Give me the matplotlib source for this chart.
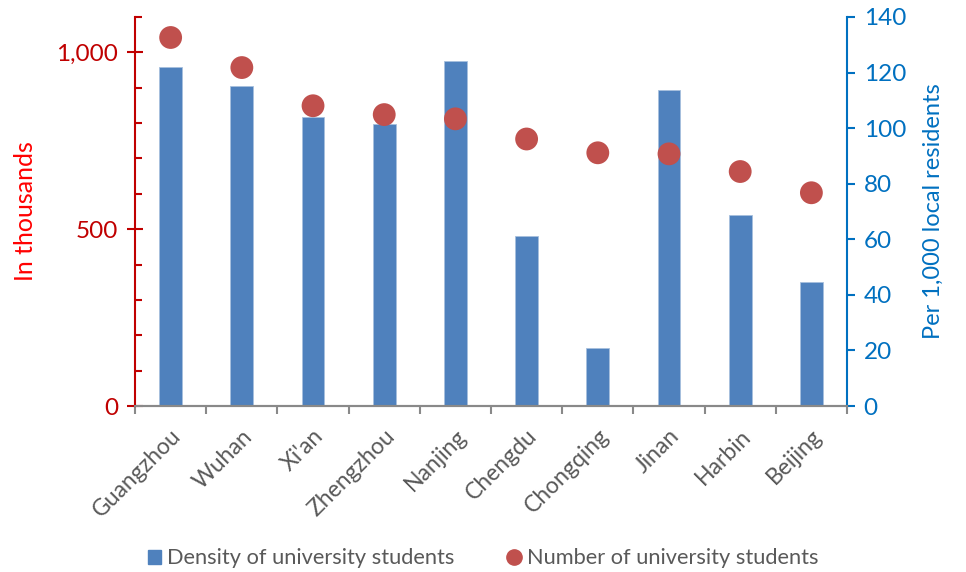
import numpy as np
import matplotlib.pyplot as plt
from matplotlib.ticker import MultipleLocator, FuncFormatter, FixedLocator
from matplotlib.lines import Line2D
from matplotlib.patches import Patch

plt.rcParams['font.family'] = ['Lato', 'DejaVu Sans']

cities = ['Guangzhou', 'Wuhan', "Xi'an", 'Zhengzhou', 'Nanjing',
          'Chengdu', 'Chongqing', 'Jinan', 'Harbin', 'Beijing']
# students per 1,000 local residents (right axis)
density = [122, 115, 104, 101.5, 124, 61.3, 21, 113.8, 68.8, 44.7]
# number of university students, thousands (left axis)
students = [1042, 957, 849, 824, 812, 755, 716, 713, 663, 603]

bar_color = '#4F81BD'
dot_color = '#C0504D'
left_color = '#C00000'
right_color = '#0070C0'
grey = '#595959'

fig = plt.figure(figsize=(9.66, 5.72), dpi=100)
ax = fig.add_axes([0.1398, 0.2902, 0.7370, 0.6801])
ax2 = ax.twinx()

x = np.arange(len(cities))
ax2.bar(x, density, width=0.32, color=bar_color, edgecolor='#A7C0DE', linewidth=0.6)
ax.scatter(x, students, s=270, color=dot_color, edgecolors='none', zorder=3)

# dots above the bars
ax.set_zorder(ax2.get_zorder() + 1)
ax.patch.set_visible(False)

ax.set_xlim(-0.5, len(cities) - 0.5)
ax.set_ylim(0, 1100)
ax2.set_ylim(0, 140)

# left axis
ax.yaxis.set_major_locator(FixedLocator([0, 500, 1000]))
ax.yaxis.set_minor_locator(MultipleLocator(100))
ax.yaxis.set_major_formatter(FuncFormatter(lambda v, p: f'{int(v):,}'))
ax.tick_params(axis='y', which='major', direction='inout', length=12, width=1.5,
               colors=left_color, labelsize=17.5, pad=6)
ax.tick_params(axis='y', which='minor', direction='in', length=5, width=1.5,
               colors=left_color)
ax.set_ylabel('In thousands', color='#FF0000', fontsize=18, labelpad=14)

# right axis
ax2.yaxis.set_major_locator(MultipleLocator(20))
ax2.tick_params(axis='y', which='major', direction='out', length=6, width=1.5,
                colors=right_color, labelsize=17.5, pad=6)
ax2.set_ylabel('Per 1,000 local residents', color=right_color, fontsize=17,
               labelpad=12)

# category axis
ax.set_xticks(x)
ax.set_xticklabels(cities, rotation=45, ha='right', va='top',
                   rotation_mode='anchor', color=grey, fontsize=16.5)
ax.xaxis.set_minor_locator(FixedLocator(np.arange(-0.5, len(cities), 1.0)))
ax.tick_params(axis='x', which='major', length=0, pad=14)
ax.tick_params(axis='x', which='minor', direction='out', length=6, width=1.5,
               color='#898989')

for a in (ax, ax2):
    a.spines['top'].set_visible(False)
    a.spines['bottom'].set_color('#898989')
    a.spines['bottom'].set_linewidth(1.5)
ax.spines['left'].set_color(left_color)
ax.spines['left'].set_linewidth(1.5)
ax.spines['right'].set_visible(False)
ax2.spines['left'].set_visible(False)
ax2.spines['right'].set_color(right_color)
ax2.spines['right'].set_linewidth(1.5)
ax2.tick_params(axis='x', which='both', length=0)

handles = [Patch(color=bar_color, label='Density of university students'),
           Line2D([], [], marker='o', linestyle='none', markersize=11,
                  color=dot_color, label='Number of university students')]
leg = fig.legend(handles=handles, loc='lower center', bbox_to_anchor=(0.5, -0.028),
                 ncol=2, frameon=False, fontsize=15.7, columnspacing=2.4,
                 handlelength=0.6, handleheight=0.6, handletextpad=0.3)
for t in leg.get_texts():
    t.set_color(grey)

fig.savefig('out.png', dpi=100)
